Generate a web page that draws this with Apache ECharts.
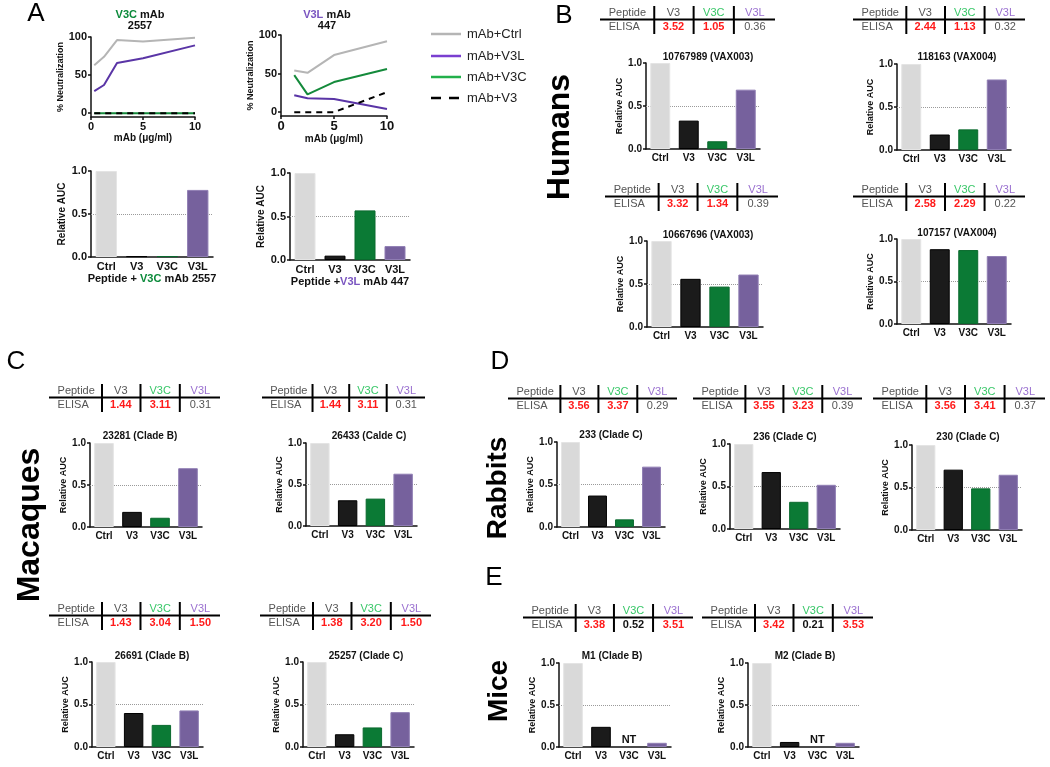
<!DOCTYPE html>
<html><head><meta charset="utf-8">
<script src="https://cdn.jsdelivr.net/npm/echarts@6/dist/echarts.min.js"></script>
<style>html,body{margin:0;padding:0;background:#fff}#c{width:1050px;height:767px}</style>
</head><body><div id="c"></div>
<script>
// ---------- DATA ----------
const barCategories = ['Ctrl', 'V3', 'V3C', 'V3L'];
const peptideHeaders = ['V3', 'V3C', 'V3L'];
const legendNames = ['mAb+Ctrl', 'mAb+V3L', 'mAb+V3C', 'mAb+V3'];

// Panel A: % neutralization vs mAb concentration (µg/ml)
const dose2557 = [0.3125, 1.25, 2.5, 5, 10];
const mab2557Ctrl = [63, 74, 96, 94, 99];
const mab2557V3L = [29, 37, 66, 72, 89];
const mab2557V3C = [0, 0, 0, 0, 0];
const mab2557V3 = [0, 0, 0, 0, 0];
const dose447 = [1.25, 2.5, 5, 10];
const mab447Ctrl = [54, 51, 74, 92];
const mab447V3L = [22, 18, 17, 4];
const mab447V3C = [48, 23, 39, 56];
const mab447V3 = [0, 0, 0, 26];

// Relative AUC (Ctrl, V3, V3C, V3L)
const aucMab2557 = [1.0, 0.01, 0.01, 0.78];
const aucMab447 = [1.0, 0.05, 0.57, 0.16];
const auc10767989 = [1.0, 0.33, 0.09, 0.69];
const auc118163 = [1.0, 0.18, 0.24, 0.82];
const auc10667696 = [1.0, 0.56, 0.47, 0.61];
const auc107157 = [1.0, 0.88, 0.87, 0.80];
const auc23281 = [1.0, 0.18, 0.11, 0.70];
const auc26433 = [1.0, 0.31, 0.33, 0.63];
const auc26691 = [1.0, 0.40, 0.26, 0.43];
const auc25257 = [1.0, 0.15, 0.23, 0.41];
const auc233 = [1.0, 0.37, 0.09, 0.71];
const auc236 = [1.0, 0.67, 0.32, 0.52];
const auc230 = [1.0, 0.71, 0.49, 0.65];
const aucM1 = [1.0, 0.24, 'NT', 0.05];
const aucM2 = [1.0, 0.06, 'NT', 0.05];

// ELISA (V3, V3C, V3L)
const elisa10767989 = ['3.52', '1.05', '0.36'];
const elisa118163 = ['2.44', '1.13', '0.32'];
const elisa10667696 = ['3.32', '1.34', '0.39'];
const elisa107157 = ['2.58', '2.29', '0.22'];
const elisa23281 = ['1.44', '3.11', '0.31'];
const elisa26433 = ['1.44', '3.11', '0.31'];
const elisa26691 = ['1.43', '3.04', '1.50'];
const elisa25257 = ['1.38', '3.20', '1.50'];
const elisa233 = ['3.56', '3.37', '0.29'];
const elisa236 = ['3.55', '3.23', '0.39'];
const elisa230 = ['3.56', '3.41', '0.37'];
const elisaM1 = ['3.38', '0.52', '3.51'];
const elisaM2 = ['3.42', '0.21', '3.53'];

// ---------- STYLE / LAYOUT ----------
const FONT = 'Liberation Sans, Arial, sans-serif';
const barColors = ['#d9d9d9', '#1b1b1b', '#0b7a35', '#76619d'];
const barBorders = ['#e4e4e4', '#000000', '#0a6a2e', '#8f7db3'];
const lineColors = {ctrl: '#b5b5b5', v3l: '#5a35a6', v3c: '#148a3b', v3: '#000000'};
const legendColors = ['#b5b5b5', '#7a3fd0', '#22b04b', '#000000'];
const hdrColors = ['#555555', '#38c768', '#9a70d0'];

const grids = [], xAxes = [], yAxes = [], series = [], graphics = [];

function txt(x, y, text, o) {
  o = o || {};
  graphics.push({
    type: 'text', x: x, y: y, rotation: o.rot || 0, silent: true, z: 10,
    style: {
      text: text, fill: o.color || '#000', font: (o.weight || 'normal') + ' ' + (o.size || 11) + 'px ' + FONT,
      textAlign: o.align || 'center', textVerticalAlign: 'middle', verticalAlign: 'middle', rich: o.rich
    }
  });
}
function seg(x1, y1, x2, y2, o) {
  o = o || {};
  graphics.push({type: 'line', silent: true, z: 10, shape: {x1: x1, y1: y1, x2: x2, y2: y2},
    style: {stroke: o.color || '#000', lineWidth: o.width || 2, lineDash: o.dash || null}});
}

function axisCommon(size) {
  return {
    axisLine: {show: true, onZero: false, lineStyle: {color: '#111', width: 1.5}},
    axisTick: {show: true, length: 3, lineStyle: {color: '#111', width: 1.5}},
    splitLine: {show: false},
    axisLabel: {color: '#111', fontWeight: 'bold', fontSize: size, fontFamily: FONT, margin: 4}
  };
}

function addBarPanel(p) {
  const gi = grids.length;
  const fs = p.big ? 11 : 10;
  grids.push({left: p.left, top: p.top, width: p.width, height: p.height, containLabel: false, outerBoundsMode: 'none'});
  const xa = Object.assign(axisCommon(fs), {type: 'category', gridIndex: gi, data: barCategories});
  xa.axisTick = {show: false};
  xa.axisLabel.margin = 4;
  if (p.xName) {
    xa.name = p.xName; xa.nameLocation = 'middle'; xa.nameGap = 16;
    xa.nameTextStyle = {color: '#111', fontWeight: 'bold', fontSize: 11, fontFamily: FONT,
      rich: {g: {color: '#0b8a3a', fontWeight: 'bold', fontSize: 11, fontFamily: FONT},
             p: {color: '#7a55c0', fontWeight: 'bold', fontSize: 11, fontFamily: FONT}}};
  }
  xAxes.push(xa);
  const ya = Object.assign(axisCommon(fs), {type: 'value', gridIndex: gi, min: 0, max: 1, interval: 0.5,
    name: 'Relative AUC', nameLocation: 'middle', nameRotate: 90, nameGap: p.big ? 24 : 21,
    nameTextStyle: {color: '#111', fontWeight: 'bold', fontSize: p.big ? 10 : 9, fontFamily: FONT}});
  ya.axisLabel.formatter = v => v.toFixed(1);
  yAxes.push(ya);
  series.push({
    type: 'bar', xAxisIndex: gi, yAxisIndex: gi, barWidth: '70%', z: 3, silent: true,
    data: p.data.map((v, i) => v === 'NT'
      ? {value: 0, itemStyle: {color: barColors[i]}, label: {show: true, formatter: 'NT', position: 'top', distance: 2,
          fontWeight: 'bold', fontSize: 11, color: '#111', fontFamily: FONT}}
      : {value: v, itemStyle: {color: barColors[i], borderColor: barBorders[i], borderWidth: 1}}),
    markLine: {z: 1, silent: true, symbol: ['none', 'none'], label: {show: false},
      lineStyle: {type: 'dotted', color: '#9a9a9a', width: 1}, data: [{yAxis: 0.5}]}
  });
  if (p.title) txt(p.tx, p.ty, p.title, {weight: 'bold', size: 10, color: '#111'});
}

function addLinePanel(p) {
  const gi = grids.length;
  grids.push({left: p.left, top: p.top, width: p.width, height: p.height, containLabel: false, outerBoundsMode: 'none'});
  const xa = Object.assign(axisCommon(p.xfs), {type: 'value', gridIndex: gi, min: 0, max: 10, interval: 5,
    name: 'mAb (μg/ml)', nameLocation: 'middle', nameGap: 15,
    nameTextStyle: {color: '#111', fontWeight: 'bold', fontSize: 10, fontFamily: FONT}});
  xAxes.push(xa);
  const ya = Object.assign(axisCommon(11), {type: 'value', gridIndex: gi, min: -5, max: 100,
    name: '% Neutralization', nameLocation: 'middle', nameRotate: 90, nameGap: 24,
    nameTextStyle: {color: '#111', fontWeight: 'bold', fontSize: 9, fontFamily: FONT}});
  ya.axisLabel.customValues = [0, 50, 100];
  ya.axisTick.customValues = [0, 50, 100];
  yAxes.push(ya);
  const mk = (vals, color, dash, name, z) => series.push({
    type: 'line', name: name, xAxisIndex: gi, yAxisIndex: gi, symbol: 'none', silent: true, z: z,
    lineStyle: {color: color, width: 2, type: dash ? [6, 5] : 'solid'},
    data: p.dose.map((d, i) => [d, vals[i]])
  });
  mk(p.ctrl, lineColors.ctrl, false, legendNames[0], 2);
  mk(p.v3l, lineColors.v3l, false, legendNames[1], 3);
  mk(p.v3c, lineColors.v3c, false, legendNames[2], 4);
  mk(p.v3, lineColors.v3, true, legendNames[3], 5);
}

function addTable(t) {
  const w = t.x1 - t.x0, y = t.y, y2 = t.y + 14;
  const seps = [0.31, 0.535, 0.765], cx = [0.42, 0.65, 0.885];
  seg(t.x0, y + 6.5, t.x1, y + 6.5, {width: 2});
  seps.forEach(f => seg(t.x0 + w * f, y - 7, t.x0 + w * f, y2 + 7, {width: 2}));
  txt(t.x0 + w * 0.05, y, 'Peptide', {align: 'left', size: 11, color: '#555'});
  txt(t.x0 + w * 0.05, y2, 'ELISA', {align: 'left', size: 11, color: '#555'});
  peptideHeaders.forEach((h, i) => txt(t.x0 + w * cx[i], y, h, {size: 11, color: hdrColors[i]}));
  t.vals.forEach((v, i) => {
    const num = parseFloat(v);
    let o;
    if (t.blackBold && t.blackBold.indexOf(i) >= 0) o = {size: 11, weight: 'bold', color: '#111'};
    else if (num > 1) o = {size: 11, weight: 'bold', color: '#ff1a1a'};
    else o = {size: 11, color: '#555'};
    txt(t.x0 + w * cx[i], y2, v, o);
  });
}

// ---------- PANEL A ----------
addLinePanel({left: 91, top: 37, width: 104, height: 80, xfs: 11, dose: dose2557,
  ctrl: mab2557Ctrl, v3l: mab2557V3L, v3c: mab2557V3C, v3: mab2557V3});
addLinePanel({left: 281, top: 35, width: 106, height: 81, xfs: 13, dose: dose447,
  ctrl: mab447Ctrl, v3l: mab447V3L, v3c: mab447V3C, v3: mab447V3});
txt(140, 15, '{g|V3C} mAb', {weight: 'bold', size: 11, color: '#111', rich: {g: {fill: '#0b8a3a', font: 'bold 11px ' + FONT}}});
txt(140, 26, '2557', {weight: 'bold', size: 11, color: '#111'});
txt(327, 15, '{p|V3L} mAb', {weight: 'bold', size: 11, color: '#111', rich: {p: {fill: '#7a55c0', font: 'bold 11px ' + FONT}}});
txt(327, 26, '447', {weight: 'bold', size: 11, color: '#111'});
const legendY = [34, 56, 77, 98];
legendNames.forEach((n, i) => {
  seg(431, legendY[i], 461, legendY[i], {color: legendColors[i], width: 2.5, dash: i === 3 ? [10, 8] : null});
  txt(467, legendY[i], n, {align: 'left', size: 13, color: '#222'});
});
addBarPanel({left: 91, top: 171, width: 122, height: 86, big: true, data: aucMab2557,
  xName: 'Peptide + {g|V3C} mAb 2557'});
addBarPanel({left: 290, top: 173, width: 120, height: 87, big: true, data: aucMab447,
  xName: 'Peptide +{p|V3L} mAb 447'});

// ---------- PANEL B ----------
addTable({x0: 600, x1: 775, y: 13, vals: elisa10767989});
addTable({x0: 853, x1: 1025, y: 13, vals: elisa118163});
addTable({x0: 605, x1: 778, y: 190, vals: elisa10667696});
addTable({x0: 853, x1: 1025, y: 190, vals: elisa107157});
addBarPanel({left: 646, top: 63, width: 114, height: 86, data: auc10767989, title: '10767989 (VAX003)', tx: 708, ty: 57});
addBarPanel({left: 897, top: 64, width: 114, height: 86, data: auc118163, title: '118163 (VAX004)', tx: 957, ty: 57});
addBarPanel({left: 647, top: 241, width: 116, height: 86, data: auc10667696, title: '10667696 (VAX003)', tx: 708, ty: 235});
addBarPanel({left: 897, top: 239, width: 114, height: 85, data: auc107157, title: '107157 (VAX004)', tx: 957, ty: 233});

// ---------- PANEL C ----------
addTable({x0: 49, x1: 220, y: 391, vals: elisa23281});
addTable({x0: 262, x1: 425, y: 391, vals: elisa26433});
addTable({x0: 49, x1: 220, y: 609, vals: elisa26691});
addTable({x0: 260, x1: 431, y: 609, vals: elisa25257});
addBarPanel({left: 90, top: 443, width: 112, height: 84, data: auc23281, title: '23281 (Clade B)', tx: 140, ty: 436});
addBarPanel({left: 306, top: 443, width: 111, height: 83, data: auc26433, title: '26433 (Calde C)', tx: 369, ty: 436});
addBarPanel({left: 92, top: 662, width: 111, height: 85, data: auc26691, title: '26691 (Clade B)', tx: 152, ty: 656});
addBarPanel({left: 303, top: 662, width: 111, height: 85, data: auc25257, title: '25257 (Clade C)', tx: 366, ty: 656});

// ---------- PANEL D ----------
addTable({x0: 508, x1: 677, y: 392, vals: elisa233});
addTable({x0: 693, x1: 862, y: 392, vals: elisa236});
addTable({x0: 873, x1: 1045, y: 392, vals: elisa230});
addBarPanel({left: 557, top: 442, width: 108, height: 85, data: auc233, title: '233 (Clade C)', tx: 611, ty: 435});
addBarPanel({left: 730, top: 444, width: 110, height: 85, data: auc236, title: '236 (Clade C)', tx: 785, ty: 437});
addBarPanel({left: 912, top: 445, width: 110, height: 85, data: auc230, title: '230 (Clade C)', tx: 968, ty: 437});

// ---------- PANEL E ----------
addTable({x0: 523, x1: 693, y: 611, vals: elisaM1, blackBold: [1]});
addTable({x0: 702, x1: 873, y: 611, vals: elisaM2, blackBold: [1]});
addBarPanel({left: 559, top: 663, width: 112, height: 84, data: aucM1, title: 'M1 (Clade B)', tx: 612, ty: 656});
addBarPanel({left: 748, top: 663, width: 111, height: 84, data: aucM2, title: 'M2 (Clade B)', tx: 805, ty: 656});

// ---------- LETTERS & SPECIES ----------
txt(36, 14, 'A', {size: 26});
txt(564, 16, 'B', {size: 26});
txt(16, 362, 'C', {size: 26});
txt(500, 362, 'D', {size: 26});
txt(494, 578, 'E', {size: 26});
txt(560, 137, 'Humans', {size: 32, weight: 'bold', rot: Math.PI / 2});
txt(30, 525, 'Macaques', {size: 32, weight: 'bold', rot: Math.PI / 2});
txt(498, 488, 'Rabbits', {size: 28, weight: 'bold', rot: Math.PI / 2});
txt(499, 691, 'Mice', {size: 28, weight: 'bold', rot: Math.PI / 2});

const chart = echarts.init(document.getElementById('c'), null, {renderer: 'canvas'});
chart.setOption({
  animation: false,
  backgroundColor: '#ffffff',
  textStyle: {fontFamily: FONT},
  grid: grids, xAxis: xAxes, yAxis: yAxes, series: series, graphic: graphics
});
</script>
</body></html>
